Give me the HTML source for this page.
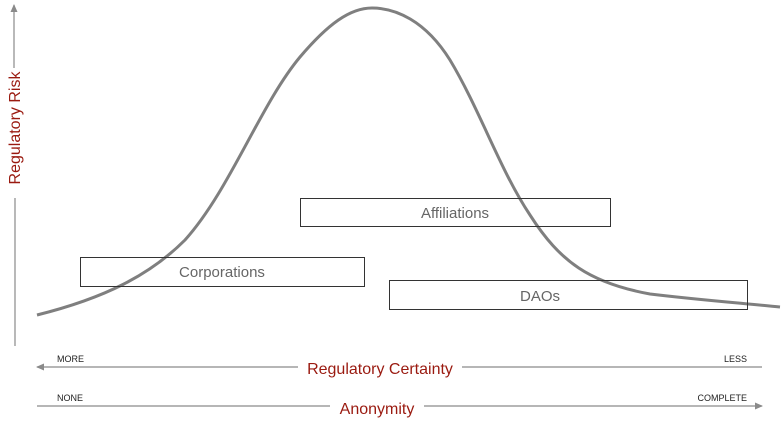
<!DOCTYPE html>
<html><head><meta charset="utf-8"><style>
html,body{margin:0;padding:0;background:#fff;}
svg{display:block;}
text{font-family:"Liberation Sans",Arial,sans-serif;}
</style></head><body>
<svg width="782" height="423" viewBox="0 0 782 423" xmlns="http://www.w3.org/2000/svg">
<defs>
<marker id="ah" markerWidth="8" markerHeight="8" refX="7" refY="4" orient="auto" markerUnits="userSpaceOnUse">
<path d="M0,0.5 L8,4 L0,7.5 Z" fill="#8a8a8a"/></marker>
</defs>
<line x1="15" y1="346" x2="15" y2="198" stroke="#8a8a8a" stroke-width="1.2"/>
<line x1="14" y1="68" x2="14" y2="5" stroke="#8a8a8a" stroke-width="1.2" marker-end="url(#ah)"/>
<text transform="translate(20,128) rotate(-90)" text-anchor="middle" font-size="16" fill="#9a1a10">Regulatory Risk</text>
<path d="M37,315 C105,298 150,275 185,240 C230,190 260,105 300,57 C328,24 350,8 372,8 C395,8 425,20 450,60 C480,110 500,170 530,215 C560,262 590,283 650,294 C700,300 740,303 780,307" fill="none" stroke="#7f7f7f" stroke-width="3"/>
<rect x="300.5" y="198.5" width="310" height="28" fill="none" stroke="#333" stroke-width="1"/>
<text x="455" y="218" text-anchor="middle" font-size="15" fill="#666">Affiliations</text>
<rect x="80.5" y="257.5" width="284" height="29" fill="none" stroke="#333" stroke-width="1"/>
<text x="222" y="277" text-anchor="middle" font-size="15" fill="#666">Corporations</text>
<rect x="389.5" y="280.5" width="358" height="29" fill="none" stroke="#333" stroke-width="1"/>
<text x="540" y="301" text-anchor="middle" font-size="15" fill="#666">DAOs</text>
<line x1="298" y1="367" x2="37" y2="367" stroke="#8a8a8a" stroke-width="1.2" marker-end="url(#ah)"/>
<line x1="462" y1="367" x2="762" y2="367" stroke="#8a8a8a" stroke-width="1.2"/>
<text x="380" y="374" text-anchor="middle" font-size="16" fill="#9a1a10">Regulatory Certainty</text>
<text x="57" y="362" font-size="9" fill="#222">MORE</text>
<text x="747" y="362" text-anchor="end" font-size="9" fill="#222">LESS</text>
<line x1="37" y1="406" x2="330" y2="406" stroke="#8a8a8a" stroke-width="1.2"/>
<line x1="424" y1="406" x2="762" y2="406" stroke="#8a8a8a" stroke-width="1.2" marker-end="url(#ah)"/>
<text x="377" y="414" text-anchor="middle" font-size="16" fill="#9a1a10">Anonymity</text>
<text x="57" y="401" font-size="9" fill="#222">NONE</text>
<text x="747" y="401" text-anchor="end" font-size="9" fill="#222">COMPLETE</text>
</svg>
</body></html>
